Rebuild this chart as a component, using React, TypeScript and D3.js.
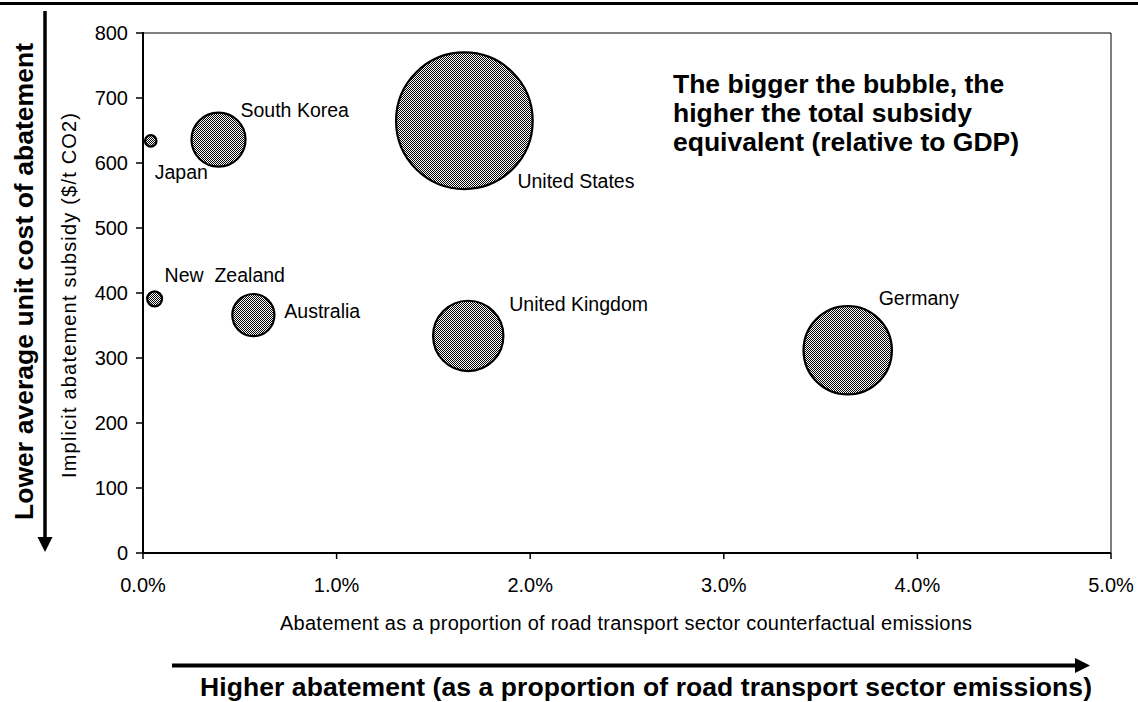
import React from 'react';
import * as d3 from 'd3';

// Countries and their values
const countries = ['Japan', 'South Korea', 'New \u00A0Zealand', 'Australia', 'United Kingdom', 'Germany', 'United States'];
// Abatement as a share of road transport counterfactual emissions
const abatementShare = [0.0004, 0.0039, 0.0006, 0.0057, 0.0168, 0.0364, 0.0166];
// Implicit abatement subsidy, $/t CO2
const unitSubsidy = [634, 636, 391, 366, 334, 312, 665];
// Total subsidy equivalent relative to GDP (%), sets bubble area
const subsidyToGdp = [0.0021, 0.047, 0.0036, 0.0286, 0.0795, 0.1256, 0.3];

const xTicks = [0, 0.01, 0.02, 0.03, 0.04, 0.05];
const yTicks = [0, 100, 200, 300, 400, 500, 600, 700, 800];

const noteLines = ['The bigger the bubble, the', 'higher the total subsidy', 'equivalent (relative to GDP)'];

// Label placement relative to bubble centre (px)
const labelOffsets: [number, number][] = [
  [4, 38],
  [22, -23],
  [10, -17],
  [31, 3],
  [41, -25],
  [31, -45],
  [53, 67],
];

const W = 1138;
const H = 702;
const plot = { left: 143, right: 1111, top: 33, bottom: 553 };
const FONT = '"Liberation Sans", Arial, Helvetica, sans-serif';

export default function App() {
  const x = d3.scaleLinear().domain([0, 0.05]).range([plot.left, plot.right]);
  const y = d3.scaleLinear().domain([0, 800]).range([plot.bottom, plot.top]);
  const r = d3.scaleSqrt().domain([0, 0.3]).range([0, 68.3]);
  const pct = d3.format('.1%');

  const bubbles = countries.map((c, i) => ({
    name: c,
    cx: x(abatementShare[i]),
    cy: y(unitSubsidy[i]),
    r: r(subsidyToGdp[i]),
    off: labelOffsets[i],
  }));
  // larger bubbles first so small ones stay on top
  const order = d3.range(bubbles.length).sort((a, b) => bubbles[b].r - bubbles[a].r);

  return (
    <svg
      width={W}
      height={H}
      viewBox={`0 0 ${W} ${H}`}
      style={{ position: 'absolute', left: 0, top: 0, background: '#fff' }}
      fontFamily={FONT}
    >
      <defs>
        <pattern id="checker" width={2} height={2} patternUnits="userSpaceOnUse">
          <rect width={2} height={2} fill="#fff" />
          <rect x={0} y={0} width={1} height={1} fill="#000" />
          <rect x={1} y={1} width={1} height={1} fill="#000" />
        </pattern>
      </defs>

      <rect x={0} y={0} width={W} height={H} fill="#fff" />
      {/* top rule */}
      <rect x={0} y={2} width={W} height={3} fill="#000" />

      {/* plot frame */}
      <line x1={plot.left} x2={plot.right} y1={plot.top} y2={plot.top} stroke="#808080" strokeWidth={2} />
      <line x1={plot.right} x2={plot.right} y1={plot.top} y2={plot.bottom} stroke="#000" strokeWidth={1} />
      <line x1={plot.left} x2={plot.left} y1={plot.top - 1} y2={plot.bottom + 1} stroke="#000" strokeWidth={2} />
      <line x1={plot.left - 1} x2={plot.right} y1={plot.bottom} y2={plot.bottom} stroke="#000" strokeWidth={2} />

      {/* y ticks */}
      {yTicks.map((t) => (
        <g key={'y' + t}>
          <line x1={plot.left - 7} x2={plot.left} y1={y(t)} y2={y(t)} stroke="#000" strokeWidth={1.5} />
          <text x={128} y={y(t) + 7} textAnchor="end" fontSize={20} fill="#000">
            {t}
          </text>
        </g>
      ))}

      {/* x ticks */}
      {xTicks.map((t) => (
        <g key={'x' + t}>
          <line x1={x(t)} x2={x(t)} y1={plot.bottom} y2={plot.bottom + 6} stroke="#000" strokeWidth={1.5} />
          <text x={x(t)} y={592} textAnchor="middle" fontSize={20} fill="#000">
            {pct(t)}
          </text>
        </g>
      ))}

      {/* bubbles */}
      {order.map((i) => {
        const b = bubbles[i];
        return (
          <circle key={b.name} cx={b.cx} cy={b.cy} r={b.r} fill="url(#checker)" stroke="#000" strokeWidth={2.2} />
        );
      })}
      {bubbles.map((b) => (
        <text key={b.name + '-l'} x={b.cx + b.off[0]} y={b.cy + b.off[1]} fontSize={19.5} fill="#000">
          {b.name}
        </text>
      ))}

      {/* note */}
      {noteLines.map((l, i) => (
        <text key={l} x={673} y={93 + i * 29} fontSize={26.5} fontWeight="bold" fill="#000">
          {l}
        </text>
      ))}

      {/* axis titles */}
      <text
        transform={`translate(76,${(113 + 478) / 2}) rotate(-90)`}
        textAnchor="middle"
        fontSize={20}
        textLength={365}
        lengthAdjust="spacing"
        fill="#000"
      >
        Implicit abatement subsidy ($/t CO2)
      </text>
      <text x={626} y={630} textAnchor="middle" fontSize={20} textLength={692} lengthAdjust="spacing" fill="#000">
        Abatement as a proportion of road transport sector counterfactual emissions
      </text>

      {/* direction arrows */}
      <line x1={45} x2={45} y1={11} y2={540} stroke="#000" strokeWidth={3.5} />
      <polygon points="37.5,537 52.5,537 45,552" fill="#000" />
      <text
        transform={`translate(33,${(43 + 520) / 2}) rotate(-90)`}
        textAnchor="middle"
        fontSize={26.5}
        fontWeight="bold"
        textLength={477}
        lengthAdjust="spacing"
        fill="#000"
      >
        Lower average unit cost of abatement
      </text>

      <line x1={172} x2={1078} y1={665.5} y2={665.5} stroke="#000" strokeWidth={4} />
      <polygon points="1075,658 1075,673 1090,665.5" fill="#000" />
      <text x={646} y={696} textAnchor="middle" fontSize={26.5} fontWeight="bold" textLength={892} lengthAdjust="spacing" fill="#000">
        Higher abatement (as a proportion of road transport sector emissions)
      </text>
    </svg>
  );
}
